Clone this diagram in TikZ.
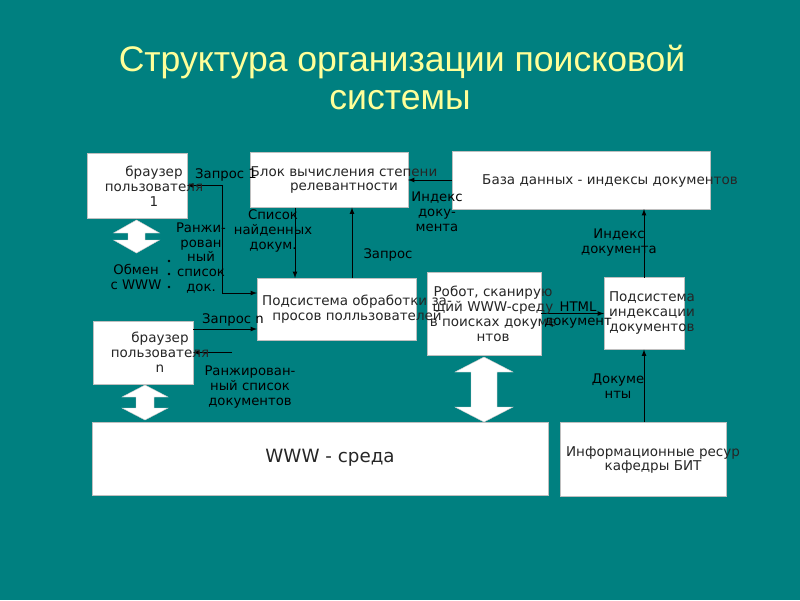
\documentclass[tikz,border=0pt]{standalone}
\usepackage{fontspec}
\setmainfont{DejaVu Sans}
\newfontfamily\titlefont{Liberation Sans}

\definecolor{slidebg}{RGB}{0,128,128}
\definecolor{titleyellow}{RGB}{255,255,153}

\begin{document}
\begin{tikzpicture}[x=0.025cm, y=-0.025cm, >=latex, line width=0.6pt,
	box/.style={draw=gray!50, line width=0.4pt, fill=white, inner sep=0pt, outer sep=0pt},
	boxtext/.style={font=\fontsize{9.6}{10.6}\selectfont, text=black!85, align=center, inner sep=0pt},
	lbl/.style={font=\fontsize{9.4}{10.6}\selectfont, text=black, align=center, inner sep=0pt},
	title/.style={font=\titlefont\fontsize{25.3}{28}\selectfont, text=titleyellow, anchor=base, inner sep=0pt},
	blockarrow/.style={fill=white, draw=gray!40, line width=0.3pt}]

	% background of the slide
	\fill[slidebg] (0,0) rectangle (800,600);
	\useasboundingbox (0,0) rectangle (800,600);

	\node[title]	(title1)	at (402,71)	{Структура организации поисковой};
	\node[title]	(title2)	at (400,109)	{системы};

	% boxes
	\node[box, minimum width=2.5cm, minimum height=1.625cm]		(br1)	at (137,185.5)	{};
	\node[box, minimum width=3.95cm, minimum height=1.375cm]	(rel)	at (329,180)	{};
	\node[box, minimum width=6.45cm, minimum height=1.45cm]		(db)	at (581,180)	{};
	\node[box, minimum width=3.975cm, minimum height=1.55cm]	(qp)	at (336.5,309)	{};
	\node[box, minimum width=2.85cm, minimum height=2.075cm]	(rob)	at (484,313.5)	{};
	\node[box, minimum width=2cm, minimum height=1.8cm]		(idx)	at (644,313.5)	{};
	\node[box, minimum width=2.5cm, minimum height=1.575cm]		(brn)	at (143,352.5)	{};
	\node[box, minimum width=11.4cm, minimum height=1.825cm]	(www)	at (320,458.5)	{};
	\node[box, minimum width=4.15cm, minimum height=1.85cm]		(res)	at (643,459)	{};

	% block arrows (exchange with the WWW)
	\filldraw[blockarrow] (136.5,220) -- (159.5,233) -- (145,233) -- (145,240) -- (159.5,240) -- (136.5,253)
		-- (113.5,240) -- (128,240) -- (128,233) -- (113.5,233) -- cycle;
	\filldraw[blockarrow] (145,385) -- (168,397) -- (154,397) -- (154,408) -- (168,408) -- (145,420)
		-- (122,408) -- (136,408) -- (136,397) -- (122,397) -- cycle;
	\filldraw[blockarrow] (484,357) -- (513,372) -- (497,372) -- (497,407) -- (513,407) -- (484,422)
		-- (455,407) -- (471,407) -- (471,372) -- (455,372) -- cycle;

	% connectors
	\coordinate	(j1)	at (222,185.5);
	\coordinate	(j2)	at (222,293);
	\coordinate	(lx)	at (295,0);
	\coordinate	(qx)	at (352,0);
	\coordinate	(qn)	at (0,329);
	\coordinate	(rk)	at (232,352.5);
	\draw[->] (j2) -- (j1) -- (br1.east);
	\draw[->] (j1) -- (j2) -- (j2 -| qp.west);
	\path[->]
		(rel.south -| lx)	edge	(qp.north -| lx)
		(qp.north -| qx)	edge	(rel.south -| qx)
		(db.west)		edge	(rel.east)
		(idx.north)		edge	(idx.north |- db.south)
		(rob.east)		edge	(idx.west)
		(idx.south |- res.north)	edge	(idx.south)
		(brn.east |- qn)	edge	(qp.west |- qn)
		(rk)			edge	(brn.east)
		;
	\fill (169,261) circle (1.3) (169,274) circle (1.3) (169,287) circle (1.3);

	% texts of the boxes
	\node[boxtext]	(br1-t)	at (154,186)	{браузер\\пользователя\\1};
	\node[boxtext]	(rel-t)	at (344,180)	{Блок вычисления степени\\релевантности};
	\node[boxtext]	(db-t)	at (610,181)	{База данных - индексы документов};
	\node[boxtext]	(qp-t)	at (357,309)	{Подсистема обработки за-\\просов полльзователей};
	\node[boxtext]	(rob-t)	at (493,314)	{Робот, сканирую\\щий WWW-среду\\в поисках докуме\\нтов};
	\node[boxtext]	(idx-t)	at (652,313)	{Подсистема\\индексации\\документов};
	\node[boxtext]	(brn-t)	at (160,352)	{браузер\\пользователя\\n};
	\node[boxtext, font=\fontsize{13}{15}\selectfont]	(www-t)	at (330,458)	{WWW - среда};
	\node[boxtext]	(res-t)	at (653,460)	{Информационные ресур\\кафедры БИТ};

	% labels of the connectors
	\node[lbl]	(q1-l)	at (226,175)	{Запрос 1};
	\node[lbl]	(rk1-l)	at (201,258)	{Ранжи-\\рован\\ный\\список\\док.};
	\node[lbl]	(ex-l)	at (136,277)	{Обмен\\с WWW};
	\node[lbl]	(found-l)	at (273,231)	{Список\\найденных\\докум.};
	\node[lbl]	(q-l)	at (388,255)	{Запрос};
	\node[lbl]	(ix1-l)	at (437,212)	{Индекс\\доку-\\мента};
	\node[lbl]	(ix2-l)	at (619,243)	{Индекс\\документа};
	\node[lbl]	(html-l)	at (578,315)	{HTML\\документ};
	\node[lbl]	(docs-l)	at (618,386)	{Докуме\\нты};
	\node[lbl]	(qn-l)	at (233,320)	{Запрос n};
	\node[lbl]	(rkn-l)	at (250,387)	{Ранжирован-\\ный список\\документов};
\end{tikzpicture}
\end{document}
